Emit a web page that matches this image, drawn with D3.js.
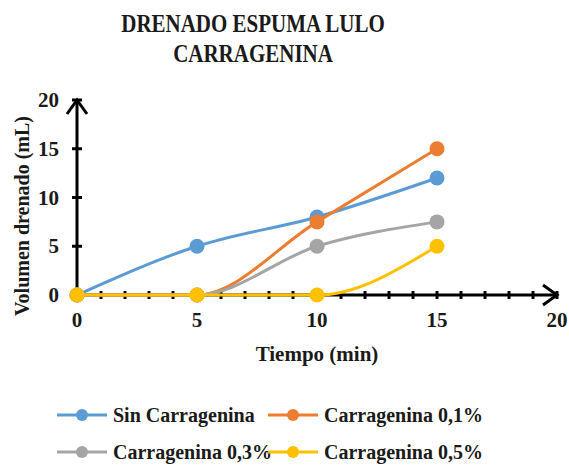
<!DOCTYPE html>
<html><head><meta charset="utf-8">
<script src="https://cdn.jsdelivr.net/npm/d3@7"></script>
<style>body{margin:0;background:#fff}svg{display:block}text{font-family:"Liberation Serif","Times New Roman",Times,serif;font-weight:bold;fill:#1a1a1a}</style>
</head><body>
<script>
const times = [0, 5, 10, 15];
const seriesNames = ["Sin Carragenina", "Carragenina 0,1%", "Carragenina 0,3%", "Carragenina 0,5%"];
const sinCarragenina = [0, 5, 8, 12];
const carragenina01 = [0, 0, 7.5, 15];
const carragenina03 = [0, 0, 5, 7.5];
const carragenina05 = [0, 0, 0, 5];
const xTicks = [0, 5, 10, 15, 20];
const yTicks = [0, 5, 10, 15, 20];
const colors = ["#5B9BD5", "#ED7D31", "#A5A5A5", "#FFC000"];
const allValues = [sinCarragenina, carragenina01, carragenina03, carragenina05];

const W = 569, H = 466;
const svg = d3.select("body").append("svg").attr("width", W).attr("height", H);
const x = d3.scaleLinear().domain([0, 20]).range([77, 557]);
const y = d3.scaleLinear().domain([0, 20]).range([295, 100]);

// title
svg.append("text").attr("transform", "translate(253,32) scale(1,1.15)").attr("text-anchor", "middle").style("font-size", "21px").text("DRENADO ESPUMA LULO");
svg.append("text").attr("transform", "translate(253,62) scale(1,1.15)").attr("text-anchor", "middle").style("font-size", "21px").text("CARRAGENINA");

const ax = svg.append("g").attr("stroke", "#000");
ax.append("line").attr("x1", x(0)).attr("x2", x(20)).attr("y1", y(0)).attr("y2", y(0)).attr("stroke-width", 3);
ax.append("line").attr("x1", x(0)).attr("x2", x(0)).attr("y1", y(0)).attr("y2", y(20)).attr("stroke-width", 3);
d3.range(1, 21).forEach(v => {
  ax.append("line").attr("x1", x(v)).attr("x2", x(v)).attr("y1", y(0) - 4).attr("y2", y(0) + 4).attr("stroke-width", 3);
});
yTicks.slice(1).forEach(v => {
  ax.append("line").attr("x1", x(0) - 5).attr("x2", x(0) + 5).attr("y1", y(v)).attr("y2", y(v)).attr("stroke-width", 3);
});
ax.append("path").attr("d", `M${x(20)-14},${y(0)-10} L${x(20)},${y(0)} L${x(20)-14},${y(0)+10}`).attr("fill", "none").attr("stroke-width", 3);
ax.append("path").attr("d", `M${x(0)-10},${y(20)+14} L${x(0)},${y(20)} L${x(0)+10},${y(20)+14}`).attr("fill", "none").attr("stroke-width", 3);

svg.selectAll(".xl").data(xTicks).enter().append("text").attr("x", d => x(d)).attr("y", 327).attr("text-anchor", "middle").style("font-size", "21px").text(d => d);
svg.selectAll(".yl").data(yTicks).enter().append("text").attr("x", 59).attr("y", d => y(d) + 7).attr("text-anchor", "end").style("font-size", "21px").text(d => d);

svg.append("text").attr("x", x(10)).attr("y", 361).attr("text-anchor", "middle").style("font-size", "21px").text("Tiempo (min)");
svg.append("text").attr("transform", `translate(29,216) rotate(-90)`).attr("text-anchor", "middle").style("font-size", "20px").text("Volumen drenado (mL)");

const line = d3.line().x((d, i) => x(times[i])).y(d => y(d)).curve(d3.curveMonotoneX);
allValues.forEach((vals, k) => {
  const g = svg.append("g");
  g.append("path").attr("d", line(vals)).attr("fill", "none").attr("stroke", colors[k]).attr("stroke-width", 3);
  g.selectAll("circle").data(vals).enter().append("circle").attr("cx", (d, i) => x(times[i])).attr("cy", d => y(d)).attr("r", 7.5).attr("fill", colors[k]);
});

const legPos = [[57, 415], [268, 415], [57, 452], [268, 452]];
seriesNames.forEach((n, k) => {
  const [lx, ly] = legPos[k];
  svg.append("line").attr("x1", lx).attr("x2", lx + 50).attr("y1", ly).attr("y2", ly).attr("stroke", colors[k]).attr("stroke-width", 3);
  svg.append("circle").attr("cx", lx + 25).attr("cy", ly).attr("r", 6).attr("fill", colors[k]);
  svg.append("text").attr("x", lx + 56).attr("y", ly + 7).style("font-size", "20px").text(n);
});
</script>
</body></html>
